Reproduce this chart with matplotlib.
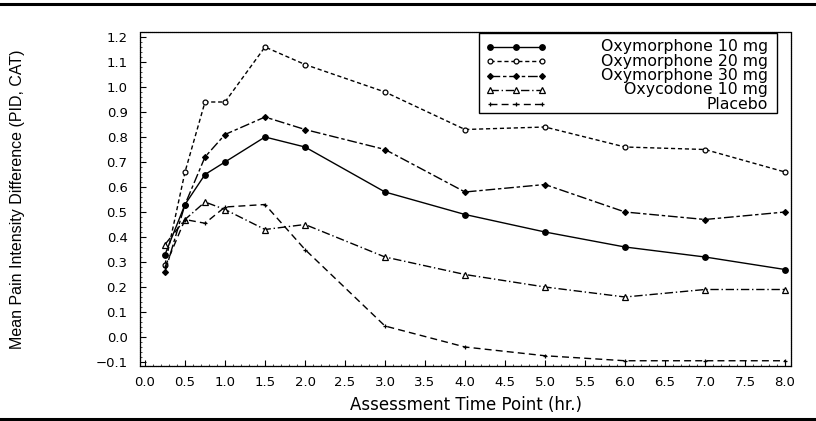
import matplotlib
matplotlib.use("Agg")
import matplotlib.pyplot as plt
from matplotlib.lines import Line2D
from matplotlib.patches import Rectangle
from matplotlib.ticker import MultipleLocator, FuncFormatter
from matplotlib import font_manager

# ---- data ----
times = [0.25, 0.5, 0.75, 1.0, 1.5, 2.0, 3.0, 4.0, 5.0, 6.0, 7.0, 8.0]
oxy10 = [0.33, 0.53, 0.65, 0.70, 0.80, 0.76, 0.58, 0.49, 0.42, 0.36, 0.32, 0.27]
oxy20 = [0.29, 0.66, 0.94, 0.94, 1.16, 1.09, 0.98, 0.83, 0.84, 0.76, 0.75, 0.66]
oxy30 = [0.26, 0.53, 0.72, 0.81, 0.88, 0.83, 0.75, 0.58, 0.61, 0.50, 0.47, 0.50]
oxycodone = [0.37, 0.47, 0.54, 0.51, 0.43, 0.45, 0.32, 0.25, 0.20, 0.16, 0.19, 0.19]
placebo = [0.28, 0.47, 0.455, 0.52, 0.53, 0.35, 0.044, -0.04, -0.075, -0.095, -0.095, -0.095]
labels = ["Oxymorphone 10 mg", "Oxymorphone 20 mg", "Oxymorphone 30 mg",
          "Oxycodone 10 mg", "Placebo"]
xticks = [i * 0.5 for i in range(17)]
yticks = [-0.1 + i * 0.1 for i in range(14)]

series = [oxy10, oxy20, oxy30, oxycodone, placebo]
styles = [
    dict(ls="-", marker="o", ms=4.0, mfc="black"),
    dict(ls=(0, (3, 2)), marker="o", ms=3.5, mfc="white"),
    dict(ls=(0, (7, 2, 2.5, 2)), marker="D", ms=3.0, mfc="black"),
    dict(ls=(0, (6, 2, 1, 2)), marker="^", ms=4.0, mfc="white"),
    dict(ls=(0, (5, 3)), marker="+", ms=2.5, mfc="black"),
]

names = {f.name for f in font_manager.fontManager.ttflist}
narrow = "Liberation Sans Narrow" if "Liberation Sans Narrow" in names else "Liberation Sans"

fig = plt.figure(figsize=(8.16, 4.21), dpi=100)
ax = fig.add_axes([140 / 816, 1 - 366 / 421, (791 - 140) / 816, (366 - 32) / 421])

for vals, st in zip(series, styles):
    ax.plot(times, vals, color="black", lw=1.0, linestyle=st["ls"],
            marker=st["marker"], markersize=st["ms"], markerfacecolor=st["mfc"],
            markeredgecolor="black", markeredgewidth=0.9)

fmt = FuncFormatter(lambda v, p: f"{v:.1f}".replace("-", "\u2212"))
ax.set_xlim(-0.0625, 8.075)
ax.set_ylim(-0.116, 1.22)
ax.set_xticks(xticks)
ax.set_yticks(yticks)
ax.xaxis.set_major_formatter(fmt)
ax.yaxis.set_major_formatter(fmt)
ax.xaxis.set_minor_locator(MultipleLocator(0.1))
ax.yaxis.set_minor_locator(MultipleLocator(0.02))
ax.tick_params(which="major", direction="in", length=4, width=0.8, labelsize=9.5)
ax.tick_params(axis="y", which="major", pad=9)
ax.tick_params(axis="x", which="major", pad=7)
ax.tick_params(which="minor", direction="in", length=1.5, width=0.5)
for s in ax.spines.values():
    s.set_linestyle((0, (1, 0.6)))
    s.set_linewidth(0.9)

ax.set_xlabel("Assessment Time Point (hr.)", fontsize=12, labelpad=5)
ax.set_ylabel("Mean Pain Intensity Difference (PID, CAT)", fontsize=11.5,
              family=narrow)
ax.yaxis.set_label_coords(-0.177, 0.5)

# ---- legend (right-aligned text, handles on the left) ----
def ax_xy(px, py):
    bb = ax.get_position()
    return ((px / 816 - bb.x0) / bb.width, ((1 - py / 421) - bb.y0) / bb.height)

x0, y0 = ax_xy(479, 113)
x1, y1 = ax_xy(777, 33)
ax.add_patch(Rectangle((x0, y0), x1 - x0, y1 - y0, transform=ax.transAxes,
                       fill=False, edgecolor="black", lw=1.0, zorder=5))
for i, (lab, st) in enumerate(zip(labels, styles)):
    py = 47 + 14.3 * i
    hx0, hy = ax_xy(490, py)
    hx1, _ = ax_xy(542, py)
    ax.add_line(Line2D([hx0, (hx0 + hx1) / 2, hx1], [hy, hy, hy], transform=ax.transAxes,
                       color="black", lw=1.0, linestyle=st["ls"], marker=st["marker"],
                       markersize=st["ms"], markerfacecolor=st["mfc"],
                       markeredgecolor="black", markeredgewidth=0.9, zorder=6))
    tx, ty = ax_xy(768, py)
    ax.text(tx, ty, lab, transform=ax.transAxes, ha="right", va="center",
            fontsize=11.3, zorder=6)

# horizontal rules at top and bottom of the figure
fig.add_artist(Line2D([0, 1], [1 - 4 / 421, 1 - 4 / 421], transform=fig.transFigure,
                      color="black", lw=2.2))
fig.add_artist(Line2D([0, 1], [1 - 419 / 421, 1 - 419 / 421], transform=fig.transFigure,
                      color="black", lw=2.2))

fig.savefig("out.png", dpi=100)
